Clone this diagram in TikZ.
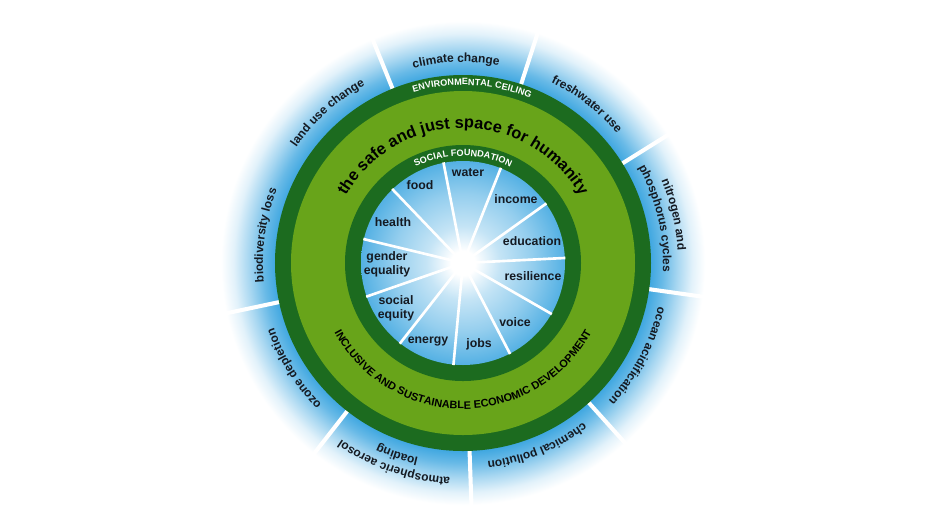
\documentclass[tikz,border=0pt]{standalone}
\usepackage{fontspec}
\setmainfont{Liberation Sans}
\usetikzlibrary{decorations.text}

\definecolor{skyblue}{HTML}{3DA6E0}
\definecolor{ceilgreen}{HTML}{1C6B1F}
\definecolor{spacegreen}{HTML}{68A41A}
\definecolor{labelcol}{HTML}{151A22}

\pgfdeclareradialshading{planetglow}{\pgfpointorigin}{color(0bp)=(skyblue); color(19bp)=(skyblue); color(20.3bp)=(skyblue!78!white); color(21.8bp)=(skyblue!45!white); color(23.3bp)=(skyblue!15!white); color(24.6bp)=(white); color(50bp)=(white)}
\pgfdeclareradialshading{socialglow}{\pgfpointorigin}{color(0bp)=(white); color(3bp)=(white); color(9bp)=(skyblue!30!white); color(17bp)=(skyblue!55!white); color(25bp)=(skyblue!88!white); color(50bp)=(skyblue)}

\newcommand\outerfont{\bfseries\fontsize{6.8}{8}\selectfont}
\newcommand\bandfont{\bfseries\fontsize{5.2}{6}\selectfont}
\newcommand\spacefont{\bfseries\fontsize{9.3}{10}\selectfont}
\newcommand\devfont{\bfseries\fontsize{6.2}{7}\selectfont}

% font, colour, start angle, end angle, radius, text
\newcommand\ringtext[6]{%
  \path[decorate, decoration={text along path, text={|#1|#6},
      text color=#2, text align=center}]
    ({#3}:#5) arc[start angle=#3, end angle=#4, radius=#5];}

\tikzset{
  innerlabel/.style={font=\bfseries\fontsize{7}{8}\selectfont, text=labelcol,
    align=center, inner sep=0pt},
}

\begin{document}
\begin{tikzpicture}
    \useasboundingbox[fill=white] (-9.26,-5.32) rectangle (9.54,5.26);
    % outer ring
    \shade[shading=planetglow] (0,0) circle (4.92);
    \foreach \a in {112,72,...,-168}
        \draw[white, line width=2.3pt] (\a:3.7) -- (\a:4.95);
    % doughnut
    \fill[ceilgreen] (0,0) circle (3.76);
    \fill[spacegreen] (0,0) circle (3.44);
    \fill[ceilgreen] (0,0) circle (2.36);
    \shade[shading=socialglow] (0,0) circle (2.04);
    \foreach \k in {0,...,10}
        \draw[white, line width=1.5pt] (0,0) -- ({101-32.727*\k}:2.05);

    % planetary boundaries
    \ringtext{\outerfont}{labelcol}{120}{64}{4.02}{climate change}
    \ringtext{\outerfont}{labelcol}{80}{24}{4.02}{freshwater use}
    \ringtext{\outerfont}{labelcol}{41}{-15}{4.3}{nitrogen and}
    \ringtext{\outerfont}{labelcol}{41}{-15}{4.0}{phosphorus cycles}
    \ringtext{\outerfont}{labelcol}{0}{-56}{4.0}{ocean acidification}
    \ringtext{\outerfont}{labelcol}{-40}{-96}{4.0}{chemical pollution}
    \ringtext{\outerfont}{labelcol}{-81}{-137}{4.3}{atmospheric aerosol}
    \ringtext{\outerfont}{labelcol}{-81}{-137}{4.0}{loading}
    \ringtext{\outerfont}{labelcol}{-120}{-176}{4.0}{ozone depletion}
    \ringtext{\outerfont}{labelcol}{200}{144}{4.0}{biodiversity loss}
    \ringtext{\outerfont}{labelcol}{160}{104}{4.06}{land use change}

    % bands
    \ringtext{\bandfont}{white}{120}{54}{3.56}{ENVIRONMENTAL CEILING}
    \ringtext{\bandfont}{white}{130}{50}{2.14}{SOCIAL FOUNDATION}
    \ringtext{\spacefont}{black}{160}{20}{2.7}{the safe and just space for humanity}
    \ringtext{\devfont}{black}{-175}{-5}{2.92}{INCLUSIVE AND SUSTAINABLE ECONOMIC DEVELOPMENT}

    % social foundation
    \node[innerlabel] (water) at (0.10,1.80) {water};
    \node[innerlabel] (food) at (-0.86,1.56) {food};
    \node[innerlabel] (income) at (1.06,1.28) {income};
    \node[innerlabel] (health) at (-1.40,0.82) {health};
    \node[innerlabel] (education) at (1.38,0.44) {education};
    \node[innerlabel] (gender) at (-1.52,-0.02) {gender\\equality};
    \node[innerlabel] (resilience) at (1.40,-0.26) {resilience};
    \node[innerlabel] (social) at (-1.34,-0.90) {social\\equity};
    \node[innerlabel] (voice) at (1.04,-1.18) {voice};
    \node[innerlabel] (energy) at (-0.70,-1.56) {energy};
    \node[innerlabel] (jobs) at (0.32,-1.62) {jobs};
\end{tikzpicture}
\end{document}
